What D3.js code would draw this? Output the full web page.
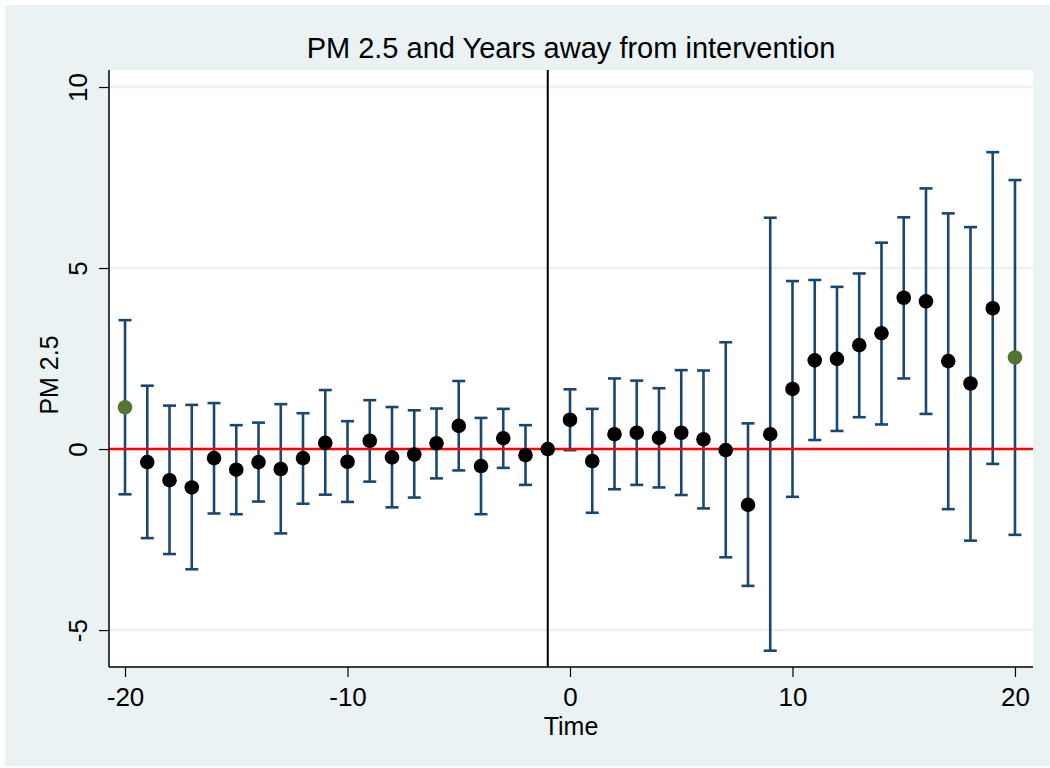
<!DOCTYPE html>
<html>
<head>
<meta charset="utf-8">
<script src="https://cdn.jsdelivr.net/npm/d3@7"></script>
<style>
  html, body { margin: 0; padding: 0; background: #ffffff; }
  svg { display: block; }
  text { font-family: "Liberation Sans", Arial, Helvetica, sans-serif; fill: #000; }
</style>
</head>
<body>
<svg id="chart" width="1050" height="768"></svg>
<script>
// ---- data ----
const times = [-20,-19,-18,-17,-16,-15,-14,-13,-12,-11,-10,-9,-8,-7,-6,-5,-4,-3,-2,-1,0,1,2,3,4,5,6,7,8,9,10,11,12,13,14,15,16,17,18,19,20];
const estimates = [1.15,-0.36,-0.86,-1.06,-0.25,-0.57,-0.36,-0.55,-0.25,0.17,-0.35,0.23,-0.23,-0.15,0.16,0.64,-0.47,0.30,-0.17,0,0.81,-0.33,0.41,0.45,0.31,0.45,0.27,-0.03,-1.54,0.41,1.66,2.45,2.49,2.87,3.20,4.18,4.08,2.43,1.81,3.89,2.53];
const lower = [-1.25,-2.46,-2.90,-3.32,-1.78,-1.80,-1.45,-2.33,-1.51,-1.26,-1.46,-0.90,-1.61,-1.34,-0.81,-0.59,-1.80,-0.52,-0.99,null,-0.03,-1.76,-1.11,-0.99,-1.06,-1.27,-1.64,-2.99,-3.78,-5.57,-1.32,0.25,0.50,0.88,0.68,1.95,0.97,-1.66,-2.53,-0.41,-2.37];
const upper = [3.56,1.75,1.20,1.22,1.27,0.66,0.73,1.24,0.99,1.63,0.77,1.35,1.16,1.07,1.12,1.88,0.86,1.11,0.66,null,1.65,1.11,1.95,1.89,1.68,2.18,2.17,2.95,0.71,6.39,4.64,4.67,4.48,4.85,5.70,6.40,7.20,6.51,6.13,8.20,7.43];
const highlighted = [-20, 20];
const xTicks = [-20,-10,0,10,20];
const yTicks = [-5,0,5,10];
const gridValues = [-5,5,10];
const eventTime = -1;
const refValue = 0;
const titleText = "PM 2.5 and Years away from intervention";
const xTitle = "Time";
const yTitle = "PM 2.5";

// ---- layout ----
const W = 1050, H = 768;
const plot = {left: 109, right: 1033, top: 70, bottom: 667};
const colors = {bg: "#eaf2f3", navy: "#1a476f", green: "#55752f", red: "#ff0000", grid: "#eaf2f3"};
const FONT = "Liberation Sans, Arial, sans-serif";
const fmt = d => String(d);

const svg = d3.select("#chart");
svg.append("rect").attr("x", 5).attr("y", 5).attr("width", W - 5).attr("height", H - 7).attr("fill", colors.bg);
svg.append("rect").attr("x", plot.left).attr("y", plot.top)
  .attr("width", plot.right - plot.left).attr("height", plot.bottom - plot.top).attr("fill", "#fff");

const x = d3.scaleLinear().domain([-20.72, 20.81]).range([plot.left, plot.right]);
const y = d3.scaleLinear().domain([-6.02, 10.47]).range([plot.bottom, plot.top]);

const data = times.map((t, i) => ({t, est: estimates[i], lo: lower[i], hi: upper[i]}));

// gridlines
svg.append("g").selectAll("line").data(gridValues).join("line")
  .attr("x1", plot.left).attr("x2", plot.right)
  .attr("y1", d => y(d)).attr("y2", d => y(d))
  .attr("stroke", colors.grid).attr("stroke-width", 2.5);

// error bars
const ci = data.filter(d => d.lo !== null && d.hi !== null);
const eb = svg.append("g").attr("stroke", colors.navy).attr("stroke-width", 2.6).attr("fill", "none");
eb.selectAll(".v").data(ci).join("line")
  .attr("x1", d => x(d.t)).attr("x2", d => x(d.t))
  .attr("y1", d => y(d.lo)).attr("y2", d => y(d.hi));
const capW = 6.5;
eb.selectAll(".ct").data(ci).join("line")
  .attr("x1", d => x(d.t) - capW).attr("x2", d => x(d.t) + capW)
  .attr("y1", d => y(d.hi)).attr("y2", d => y(d.hi));
eb.selectAll(".cb").data(ci).join("line")
  .attr("x1", d => x(d.t) - capW).attr("x2", d => x(d.t) + capW)
  .attr("y1", d => y(d.lo)).attr("y2", d => y(d.lo));

// reference line at 0
svg.append("line").attr("x1", plot.left).attr("x2", plot.right)
  .attr("y1", y(refValue)).attr("y2", y(refValue))
  .attr("stroke", colors.red).attr("stroke-width", 2.5);

// event line
svg.append("line").attr("x1", x(eventTime)).attr("x2", x(eventTime))
  .attr("y1", plot.top).attr("y2", plot.bottom)
  .attr("stroke", "#000").attr("stroke-width", 2);

// markers
svg.append("g").selectAll("circle").data(data).join("circle")
  .attr("cx", d => x(d.t)).attr("cy", d => y(d.est)).attr("r", 7.3)
  .attr("fill", d => highlighted.includes(d.t) ? colors.green : "#000");

// axes
const xAxis = svg.append("g").attr("transform", `translate(0,${plot.bottom})`)
  .call(d3.axisBottom(x).tickValues(xTicks).tickSize(10).tickFormat(fmt));
xAxis.select(".domain").attr("d", `M${plot.left},0H${plot.right}`).attr("stroke-width", 1.5);
xAxis.selectAll(".tick line").attr("stroke-width", 1.2);
xAxis.selectAll("text").attr("font-size", 26).attr("font-family", FONT)
  .attr("y", 39).attr("dy", null);

const yAxis = svg.append("g").attr("transform", `translate(${plot.left},0)`)
  .call(d3.axisLeft(y).tickValues(yTicks).tickSize(10).tickFormat(fmt));
yAxis.select(".domain").attr("d", `M0,${plot.top}V${plot.bottom}`).attr("stroke-width", 1.5);
yAxis.selectAll(".tick line").attr("stroke-width", 1.2);
yAxis.selectAll("text")
  .attr("font-size", 26).attr("font-family", FONT)
  .attr("x", null).attr("dy", null).attr("y", 0)
  .attr("text-anchor", "middle")
  .attr("transform", "translate(-22,0) rotate(-90)");

// titles
svg.append("text").attr("x", (plot.left + plot.right) / 2).attr("y", 58)
  .attr("text-anchor", "middle").attr("font-size", 29).text(titleText);
svg.append("text").attr("x", (plot.left + plot.right) / 2).attr("y", 735)
  .attr("text-anchor", "middle").attr("font-size", 25).text(xTitle);
svg.append("text").attr("transform", `translate(58,375) rotate(-90)`)
  .attr("text-anchor", "middle").attr("font-size", 25).text(yTitle);
</script>
</body>
</html>
